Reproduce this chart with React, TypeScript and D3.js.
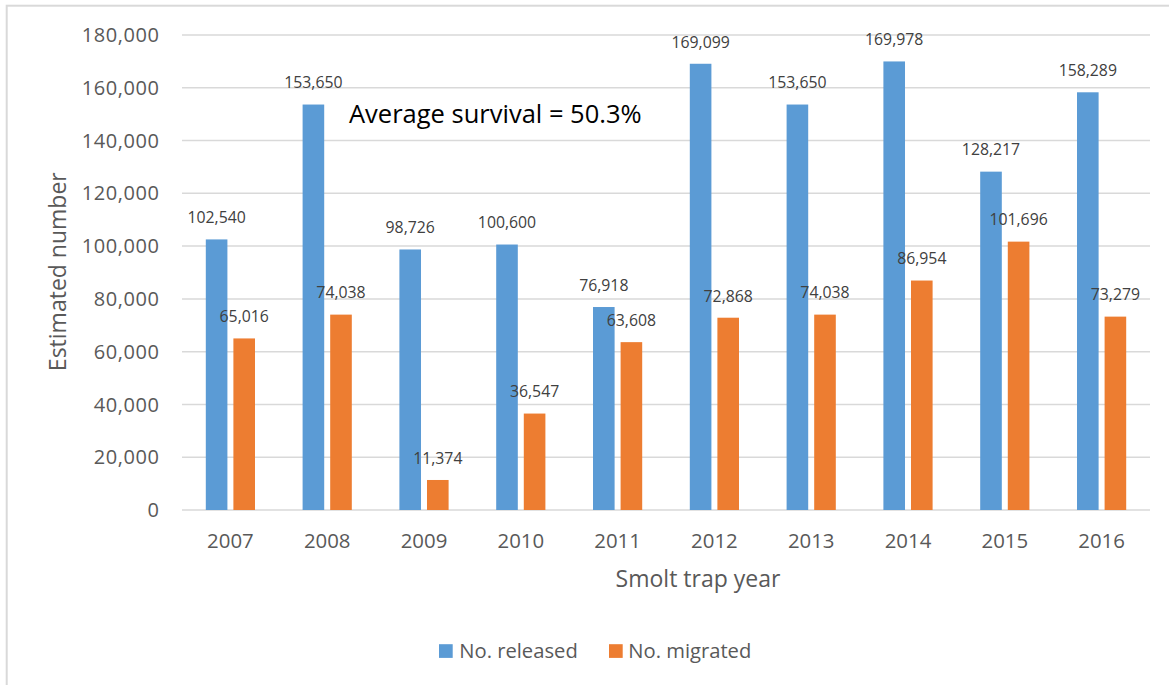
import React from "react";
import * as d3 from "d3";

const years = ["2007", "2008", "2009", "2010", "2011", "2012", "2013", "2014", "2015", "2016"];
const released = [102540, 153650, 98726, 100600, 76918, 169099, 153650, 169978, 128217, 158289];
const migrated = [65016, 74038, 11374, 36547, 63608, 72868, 74038, 86954, 101696, 73279];
const yTicks = [0, 20000, 40000, 60000, 80000, 100000, 120000, 140000, 160000, 180000];
const seriesNames = ["No. released", "No. migrated"];
const seriesColors = ["#5B9BD5", "#ED7D31"];
const annotation = "Average survival = 50.3%";

const W = 1169;
const H = 685;
const FONT = "'Open Sans', 'Liberation Sans', sans-serif";

export default function App() {
  const x = d3.scaleBand<string>().domain(years).range([182, 1150]).padding(0);
  const inner = d3
    .scaleBand<string>()
    .domain(seriesNames)
    .range([-24.6, 24.6])
    .paddingInner(0.217)
    .paddingOuter(0);
  const y = d3.scaleLinear().domain([0, 180000]).range([510, 35]);
  const fmt = d3.format(",");
  const series = [released, migrated];

  return (
    <svg
      width={W}
      height={H}
      style={{ position: "absolute", left: 0, top: 0, background: "#fff" }}
      fontFamily={FONT}
    >
      <rect x={0} y={0} width={W} height={H} fill="#fff" />
      <rect x={6.7} y={5.7} width={1300} height={800} fill="none" stroke="#d9d9d9" strokeWidth={2} />

      {/* gridlines */}
      {yTicks.map((t) => (
        <line
          key={"g" + t}
          x1={182}
          x2={1150}
          y1={y(t)}
          y2={y(t)}
          stroke="#d9d9d9"
          strokeWidth={1.5}
        />
      ))}

      {/* y tick labels */}
      {yTicks.map((t) => (
        <text
          key={"t" + t}
          x={159.5}
          y={y(t)}
          dy="0.357em"
          textAnchor="end"
          fontSize={20}
          letterSpacing={0.55}
          fill="#595959"
        >
          {fmt(t)}
        </text>
      ))}

      {/* bars */}
      {years.map((yr, i) => {
        const cx = (x(yr) as number) + x.bandwidth() / 2;
        return (
          <g key={"b" + yr}>
            {seriesNames.map((s, k) => {
              const v = series[k][i];
              const bx = cx + (inner(s) as number);
              return (
                <rect
                  key={s}
                  x={bx}
                  y={y(v)}
                  width={inner.bandwidth()}
                  height={y(0) - y(v)}
                  fill={seriesColors[k]}
                />
              );
            })}
          </g>
        );
      })}

      {/* data labels */}
      {years.map((yr, i) => {
        const cx = (x(yr) as number) + x.bandwidth() / 2;
        return (
          <g key={"l" + yr}>
            {seriesNames.map((s, k) => {
              const v = series[k][i];
              const lx = cx + (inner(s) as number) + inner.bandwidth() / 2;
              return (
                <text
                  key={s}
                  x={lx}
                  y={y(v) - 16.2}
                  textAnchor="middle"
                  fontSize={15.8}
                  fill="#404040"
                >
                  {fmt(v)}
                </text>
              );
            })}
          </g>
        );
      })}

      {/* x tick labels */}
      {years.map((yr) => (
        <text
          key={"x" + yr}
          x={(x(yr) as number) + x.bandwidth() / 2}
          y={548}
          textAnchor="middle"
          fontSize={20.4}
          fill="#595959"
        >
          {yr}
        </text>
      ))}

      {/* axis titles */}
      <text x={698} y={586.7} textAnchor="middle" fontSize={23} fill="#595959">
        Smolt trap year
      </text>
      <text
        transform="translate(66,271.7) rotate(-90)"
        textAnchor="middle"
        fontSize={23}
        fill="#595959"
      >
        Estimated number
      </text>

      {/* annotation */}
      <text x={349} y={123.3} fontSize={25.5} fill="#000">
        {annotation}
      </text>

      {/* legend */}
      {[
        { sx: 439, tx: 459.3 },
        { sx: 609, tx: 628.3 },
      ].map((p, k) => (
        <g key={"lg" + k}>
          <rect x={p.sx} y={644.2} width={13.7} height={13.7} fill={seriesColors[k]} />
          <text x={p.tx} y={657.7} fontSize={20.2} fill="#595959">
            {seriesNames[k]}
          </text>
        </g>
      ))}
    </svg>
  );
}
